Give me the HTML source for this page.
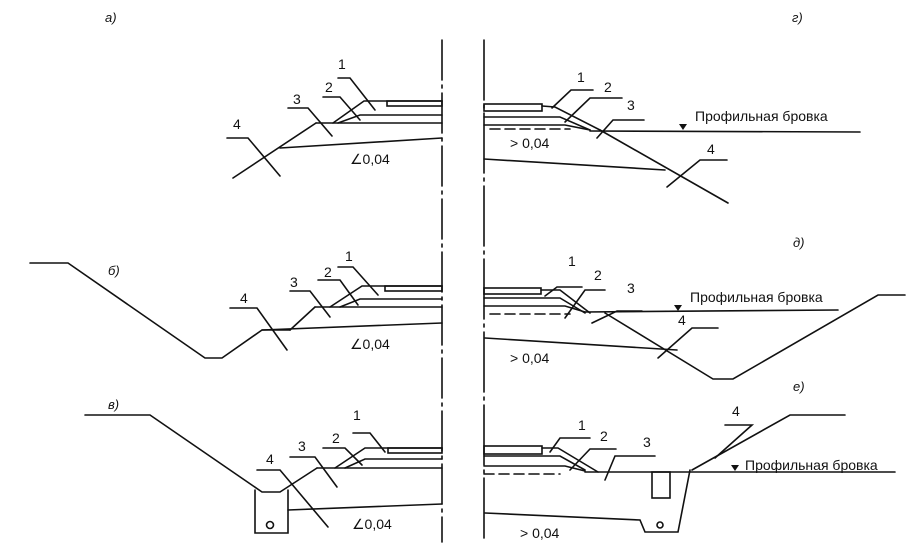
<!DOCTYPE html>
<html><head><meta charset="utf-8"><style>
html,body{margin:0;padding:0;background:#fff;}
svg{display:block;}
text{font-family:"Liberation Sans","DejaVu Sans",sans-serif;font-size:14px;fill:#111;}
.it{font-style:italic;font-size:13px;}
</style></head><body>
<svg width="908" height="551" viewBox="0 0 908 551" xmlns="http://www.w3.org/2000/svg">
<g stroke="#111" stroke-width="1.6" fill="none" stroke-linecap="round">
<!-- center lines -->
<line x1="442" y1="40" x2="442" y2="542" stroke-dasharray="40,5,3,5"/>
<line x1="484" y1="40" x2="484" y2="542" stroke-dasharray="60,5,3,5"/>

<!-- а -->
<rect x="387" y="101" width="55" height="5"/>
<polyline points="442,101 364,101 333,123"/>
<polyline points="442,115 360,115 338,123"/>
<line x1="316" y1="123" x2="442" y2="123"/>
<line x1="316" y1="123" x2="233" y2="178"/>
<line x1="280" y1="148" x2="442" y2="138"/>
<polyline points="227,138 248,138 280,176"/>
<polyline points="288,108 308,108 332,136"/>
<polyline points="323,97 340,97 360,120"/>
<polyline points="338,78 350,78 375,110"/>

<!-- г -->
<rect x="484" y="104" width="58" height="7"/>
<polyline points="542,106 555,107 600,130"/>
<polyline points="484,117 560,117 590,130"/>
<polyline points="484,125 565,125 590,130"/>
<line x1="490" y1="129" x2="570" y2="129" stroke-dasharray="10,5"/>
<line x1="590" y1="131" x2="860" y2="132"/>
<line x1="600" y1="130" x2="728" y2="203"/>
<line x1="484" y1="159" x2="665" y2="170"/>
<polyline points="593,90 571,90 552,108"/>
<polyline points="622,98 590,98 565,122"/>
<polyline points="644,120 613,120 597,138"/>
<polyline points="727,160 700,160 667,187"/>

<!-- б -->
<polyline points="30,263 68,263 205,358 222,358 262,330 290,330"/>
<line x1="262" y1="330" x2="442" y2="323"/>
<line x1="290" y1="330" x2="315" y2="307"/>
<line x1="315" y1="307" x2="442" y2="307"/>
<rect x="385" y="286" width="57" height="5"/>
<polyline points="442,286 362,286 330,307"/>
<polyline points="442,299 360,299 340,307"/>
<polyline points="230,308 257,308 287,350"/>
<polyline points="290,291 310,291 330,317"/>
<polyline points="318,280 340,280 358,305"/>
<polyline points="338,267 353,267 378,295"/>

<!-- д -->
<rect x="484" y="288" width="57" height="6"/>
<polyline points="541,290 560,290 590,313"/>
<polyline points="484,298 560,298 585,313"/>
<polyline points="484,306 565,306 585,312"/>
<line x1="490" y1="314" x2="570" y2="314" stroke-dasharray="10,5"/>
<line x1="585" y1="312" x2="838" y2="310"/>
<polyline points="605,313 713,379 733,379 878,295 905,295"/>
<line x1="485" y1="338" x2="677" y2="350"/>
<polyline points="582,287 557,287 545,296"/>
<polyline points="605,290 585,290 565,318"/>
<polyline points="642,311 617,311 592,323"/>
<polyline points="718,328 692,328 658,358"/>

<!-- в -->
<polyline points="85,415 150,415 262,492 280,492 317,468"/>
<polyline points="255,490 255,533 288,533 288,490"/>
<line x1="317" y1="468" x2="442" y2="468"/>
<polyline points="442,459 365,459 345,468"/>
<rect x="388" y="448" width="54" height="5"/>
<polyline points="442,448 365,448 335,468"/>
<line x1="288" y1="510" x2="442" y2="504"/>
<circle cx="270" cy="525" r="3.5"/>
<polyline points="257,470 280,470 328,527"/>
<polyline points="290,457 315,457 337,487"/>
<polyline points="323,448 345,448 362,465"/>
<polyline points="353,433 370,433 385,452"/>

<!-- е -->
<rect x="484" y="446" width="58" height="8"/>
<polyline points="542,448 558,448 598,472"/>
<polyline points="484,456 560,456 585,470"/>
<polyline points="484,466 565,466 585,471"/>
<line x1="484" y1="474" x2="560" y2="474" stroke-dasharray="10,5"/>
<line x1="585" y1="472" x2="895" y2="472"/>
<polyline points="692,470 790,415 845,415"/>
<rect x="652" y="472" width="18" height="26"/>
<polyline points="485,513 640,520 645,532 678,532 690,470"/>
<circle cx="660" cy="525" r="3"/>
<polyline points="590,438 560,438 550,452"/>
<polyline points="616,449 590,449 570,470"/>
<polyline points="655,456 615,456 605,480"/>
<polyline points="725,425 752,425 715,458"/>
</g>
<g fill="#111">
<polygon points="679,124 687,124 683,130"/>
<polygon points="674,305 682,305 678,311"/>
<polygon points="731,465 739,465 735,471"/>
</g>
<text class="it" x="105" y="22">а)</text>
<text class="it" x="792" y="22">г)</text>
<text class="it" x="108" y="275">б)</text>
<text class="it" x="793" y="247">д)</text>
<text class="it" x="108" y="409">в)</text>
<text class="it" x="793" y="391">е)</text>

<text x="338" y="69">1</text><text x="325" y="92">2</text><text x="293" y="104">3</text><text x="233" y="129">4</text>
<text x="350" y="164">∠0,04</text>
<text x="577" y="82">1</text><text x="604" y="92">2</text><text x="627" y="110">3</text><text x="707" y="154">4</text>
<text x="510" y="148">&gt; 0,04</text>
<text x="695" y="121">Профильная бровка</text>

<text x="345" y="261">1</text><text x="324" y="277">2</text><text x="290" y="287">3</text><text x="240" y="303">4</text>
<text x="350" y="349">∠0,04</text>
<text x="568" y="266">1</text><text x="594" y="280">2</text><text x="627" y="293">3</text><text x="678" y="325">4</text>
<text x="510" y="363">&gt; 0,04</text>
<text x="690" y="302">Профильная бровка</text>

<text x="353" y="420">1</text><text x="332" y="443">2</text><text x="298" y="451">3</text><text x="266" y="464">4</text>
<text x="352" y="529">∠0,04</text>
<text x="578" y="430">1</text><text x="600" y="441">2</text><text x="643" y="447">3</text><text x="732" y="416">4</text>
<text x="520" y="538">&gt; 0,04</text>
<text x="745" y="470">Профильная бровка</text>
</svg>
</body></html>
